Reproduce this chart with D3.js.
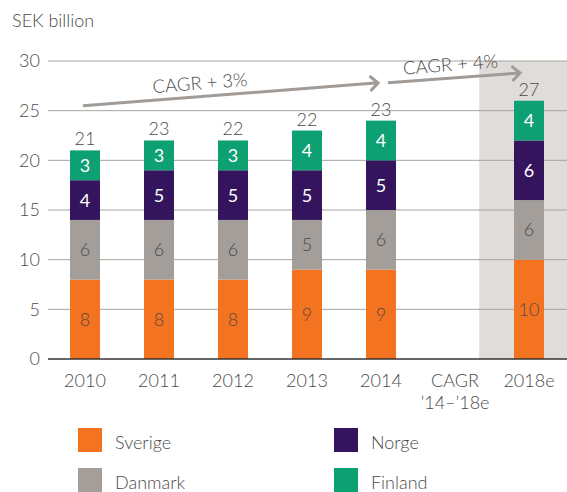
<!DOCTYPE html>
<meta charset="utf-8">
<title>SEK billion by country</title>
<style>
body { margin: 0; background: #fff; }
svg text { font-family: Lato, "Open Sans", sans-serif; font-weight: 300; fill: #4a4a4a; }
.grid line { stroke: #a8a5a2; stroke-width: 1; }
</style>
<svg width="567" height="492"></svg>
<script src="https://d3js.org/d3.v7.min.js"></script>
<script>
// chart data
var categories = ["2010", "2011", "2012", "2013", "2014", "CAGR", "2018e"];
var sverige = [8, 8, 8, 9, 9, null, 10];
var danmark = [6, 6, 6, 5, 6, null, 6];
var norge   = [4, 5, 5, 5, 5, null, 6];
var finland = [3, 3, 3, 4, 4, null, 4];
var totals  = [21, 23, 22, 22, 23, null, 27];
var yTicks  = [0, 5, 10, 15, 20, 25, 30];
var seriesNames = ["Sverige", "Danmark", "Norge", "Finland"];
var colors = ["#f47321", "#a39e9a", "#34145c", "#0da072"];
var labelColors = ["#5b4a3e", "#4a4a4a", "#ffffff", "#ffffff"];
var cagrLabels = ["CAGR + 3%", "CAGR + 4%"];

var svg = d3.select("svg");

var x = d3.scaleBand()
    .domain(categories)
    .range([48, 566])
    .paddingInner(0.595)
    .paddingOuter(0.2975);

var y = d3.scaleLinear().domain([0, 30]).range([359, 61]);

// shaded forecast area
var shadeX = x("2018e") - x.step() * 0.47;
svg.append("rect")
    .attr("x", shadeX)
    .attr("y", y(30))
    .attr("width", 567 - shadeX)
    .attr("height", y(0) - y(30))
    .attr("fill", "#e0dcd9");

svg.append("text")
    .attr("x", 12)
    .attr("y", 27)
    .style("font-size", "18px")
    .text("SEK billion");

var grid = svg.append("g").attr("class", "grid");
grid.selectAll("line")
    .data(yTicks.filter(function(d) { return d > 0; }))
    .enter().append("line")
      .attr("x1", 48).attr("x2", 567)
      .attr("y1", function(d) { return y(d); })
      .attr("y2", function(d) { return y(d); });

svg.append("g").selectAll("text")
    .data(yTicks)
    .enter().append("text")
      .attr("x", 40)
      .attr("y", function(d) { return y(d); })
      .attr("dy", "0.36em")
      .attr("text-anchor", "end")
      .style("font-size", "18px")
      .text(function(d) { return d; });

// stacked bars
var rows = categories.map(function(c, i) {
  return { cat: c, Sverige: sverige[i] || 0, Danmark: danmark[i] || 0, Norge: norge[i] || 0, Finland: finland[i] || 0 };
});
var stack = d3.stack().keys(seriesNames)(rows);

var layers = svg.append("g").selectAll("g")
    .data(stack)
    .enter().append("g");

layers.selectAll("rect")
    .data(function(d) { return d.filter(function(p) { return p[1] > p[0]; }); })
    .enter().append("rect")
      .attr("x", function(d) { return x(d.data.cat); })
      .attr("width", x.bandwidth())
      .attr("y", function(d) { return y(d[1]); })
      .attr("height", function(d) { return y(d[0]) - y(d[1]); })
      .attr("fill", function() { return colors[d3.select(this.parentNode).datum().index]; });

layers.each(function(s) {
  d3.select(this).selectAll("text")
    .data(s.filter(function(p) { return p[1] > p[0]; }))
    .enter().append("text")
      .attr("x", function(d) { return x(d.data.cat) + x.bandwidth() / 2; })
      .attr("y", function(d) { return y((d[0] + d[1]) / 2); })
      .attr("dy", "0.36em")
      .attr("text-anchor", "middle")
      .style("font-size", "18px")
      .style("font-weight", s.index >= 2 ? 400 : 300)
      .style("fill", labelColors[s.index])
      .text(function(d) { return d[1] - d[0]; });
});

// totals above bars
svg.append("g").selectAll("text")
    .data(categories.map(function(c, i) { return { cat: c, total: totals[i], top: d3.sum(stack, function(s) { return s[i][1] - s[i][0]; }) }; })
      .filter(function(d) { return d.total != null; }))
    .enter().append("text")
      .attr("x", function(d) { return x(d.cat) + x.bandwidth() / 2; })
      .attr("y", function(d) { return y(d.top) - 5; })
      .attr("text-anchor", "middle")
      .style("font-size", "18px")
      .text(function(d) { return d.total; });

// baseline
svg.append("line")
    .attr("x1", 48).attr("x2", 567)
    .attr("y1", y(0)).attr("y2", y(0))
    .attr("stroke", "#333")
    .attr("stroke-width", 1.5);

// x labels
var xl = svg.append("g").selectAll("text")
    .data(categories)
    .enter().append("text")
      .attr("x", function(d) { return x(d) + x.bandwidth() / 2; })
      .attr("y", 387)
      .attr("text-anchor", "middle")
      .style("font-size", "18px");
xl.append("tspan").text(function(d) { return d; });
xl.filter(function(d) { return d === "CAGR"; })
  .append("tspan")
    .attr("x", function(d) { return x(d) + x.bandwidth() / 2; })
    .attr("dy", 22)
    .text("\u201914\u2013\u201918e");

// CAGR arrows
var arrows = [
  { x1: x("2010") + 13, v1: 25.5, x2: x("2014") + 12, v2: 27.8, at: 0.4, label: cagrLabels[0] },
  { x1: x("CAGR") - 52, v1: 27.8, x2: x("2018e") + 6, v2: 28.8, at: 0.48, label: cagrLabels[1] }
];
arrows.forEach(function(a) {
  var x1 = a.x1, y1 = y(a.v1), x2 = a.x2, y2 = y(a.v2);
  var ang = Math.atan2(y2 - y1, x2 - x1);
  var g = svg.append("g");
  g.append("line")
    .attr("x1", x1).attr("y1", y1).attr("x2", x2).attr("y2", y2)
    .attr("stroke", "#a09b97").attr("stroke-width", 3);
  var hl = 11, ha = 0.75;
  g.append("path")
    .attr("d", "M" + (x2 - hl * Math.cos(ang - ha)) + "," + (y2 - hl * Math.sin(ang - ha)) +
               "L" + x2 + "," + y2 +
               "L" + (x2 - hl * Math.cos(ang + ha)) + "," + (y2 - hl * Math.sin(ang + ha)))
    .attr("fill", "none")
    .attr("stroke", "#a09b97").attr("stroke-width", 3);
  var mx = x1 + (x2 - x1) * a.at;
  var my = y1 + (y2 - y1) * a.at;
  g.append("text")
    .attr("transform", "translate(" + mx + "," + my + ") rotate(" + (ang * 180 / Math.PI) + ") translate(0,-7)")
    .attr("text-anchor", "middle")
    .style("font-size", "18.5px")
    .text(a.label);
});

// legend
var legend = svg.append("g").selectAll("g")
    .data(seriesNames)
    .enter().append("g")
      .attr("transform", function(d, i) {
        return "translate(" + (i < 2 ? 78 : 334) + "," + (428 + (i % 2) * 40) + ")";
      });
legend.append("rect")
    .attr("width", 24).attr("height", 24)
    .attr("fill", function(d) { return colors[seriesNames.indexOf(d)]; });
legend.append("text")
    .attr("x", 37).attr("y", 15)
    .attr("dy", "0.36em")
    .style("font-size", "18px")
    .text(function(d) { return d; });
</script>
